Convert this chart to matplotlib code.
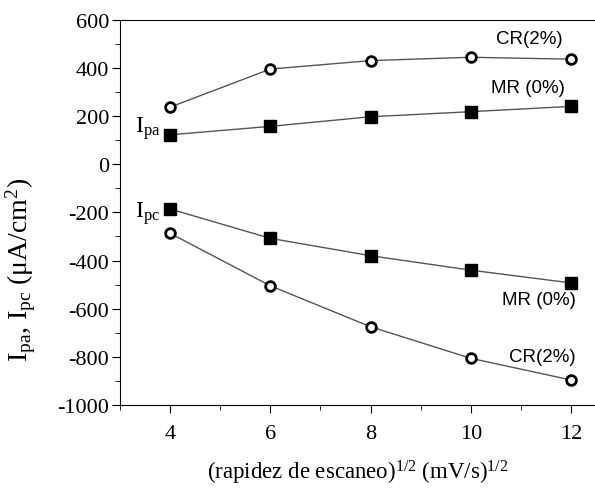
import matplotlib.pyplot as plt
from matplotlib.ticker import MultipleLocator

plt.rcParams['font.family'] = 'Liberation Serif'
plt.rcParams['mathtext.fontset'] = 'custom'
plt.rcParams['mathtext.rm'] = 'Liberation Serif'
plt.rcParams['mathtext.it'] = 'Liberation Serif'
plt.rcParams['axes.unicode_minus'] = False

x = [4, 6, 8, 10, 12]
ipa_cr = [237, 395, 430, 444, 436]
ipa_mr = [122, 157, 197, 218, 240]
ipc_mr = [-186, -308, -380, -440, -493]
ipc_cr = [-287, -505, -675, -806, -896]

fig = plt.figure(figsize=(5.95, 4.89), dpi=100)
ax = fig.add_axes([0.2017, 0.1697, 0.80, 0.788])

for y in (ipa_cr, ipc_cr):
    ax.plot(x, y, color='#555555', lw=1, marker='o', ms=7, mfc='white',
            mec='black', mew=2, zorder=3)
for y in (ipa_mr, ipc_mr):
    ax.plot(x, y, color='#555555', lw=1, marker='s', ms=8, mfc='black',
            mec='black', zorder=3)

ax.set_xlim(3, 12.5)
ax.set_ylim(-1000, 600)
ax.xaxis.set_major_locator(MultipleLocator(2))
ax.xaxis.set_minor_locator(MultipleLocator(1))
ax.yaxis.set_major_locator(MultipleLocator(200))
ax.yaxis.set_minor_locator(MultipleLocator(100))
ax.tick_params(which='both', direction='out', labelsize=16)
ax.tick_params(which='major', length=6)
ax.tick_params(which='minor', length=3.5)
ax.tick_params(axis='x', pad=8)
ax.tick_params(axis='y', pad=2)
ax.spines['right'].set_visible(False)

ax.set_xlabel(r'(rapidez de escaneo)$^{1/2}$ (mV/s)$^{1/2}$', fontsize=16.5, labelpad=10)
ax.set_ylabel(r'I$_{\rm pa}$, I$_{\rm pc}$ ($\mu$A/cm$^2$)', fontsize=20)
ax.yaxis.set_label_coords(-0.172, 0.353)

ax.text(3.3, 150, r'I$_{\rm pa}$', fontsize=17, va='center', ha='left')
ax.text(3.3, -200, r'I$_{\rm pc}$', fontsize=17, va='center', ha='left')

sans = 'Liberation Sans'
ax.text(11.17, 520, 'CR(2%)', family=sans, fontsize=13.5, ha='center', va='center')
ax.text(11.15, 320, 'MR (0%)', family=sans, fontsize=13.5, ha='center', va='center')
ax.text(11.37, -560, 'MR (0%)', family=sans, fontsize=13.5, ha='center', va='center')
ax.text(11.43, -797, 'CR(2%)', family=sans, fontsize=13.5, ha='center', va='center')

fig.savefig('out.png', dpi=100)
